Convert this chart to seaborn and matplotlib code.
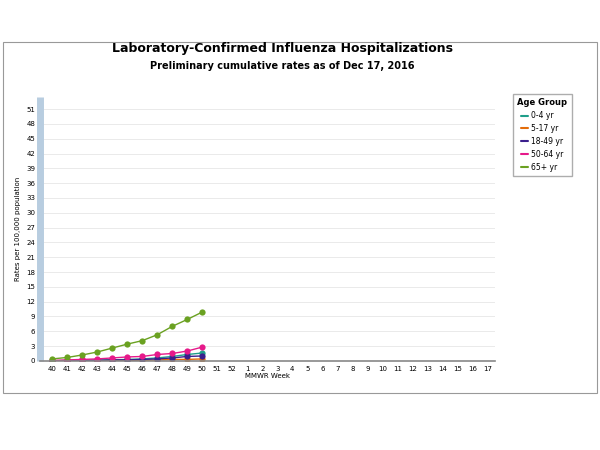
import matplotlib
matplotlib.use("Agg")
import matplotlib.pyplot as plt
import seaborn as sns
import pandas as pd
from matplotlib.patches import Rectangle
from matplotlib.lines import Line2D

weeks = [str(w) for w in list(range(40, 53)) + list(range(1, 18))]
obs_weeks = [str(w) for w in range(40, 51)]
groups = ["0-4 yr", "5-17 yr", "18-49 yr", "50-64 yr", "65+ yr"]
colors = ["#1f9e89", "#e36c0a", "#3b1f8c", "#e6198a", "#6aa121"]
r_0_4 = [0.0, 0.1, 0.1, 0.2, 0.2, 0.3, 0.4, 0.6, 0.9, 1.3, 1.6]
r_5_17 = [0.0, 0.0, 0.0, 0.0, 0.1, 0.1, 0.1, 0.2, 0.3, 0.3, 0.4]
r_18_49 = [0.0, 0.0, 0.1, 0.1, 0.2, 0.2, 0.3, 0.4, 0.6, 0.9, 1.0]
r_50_64 = [0.1, 0.2, 0.3, 0.4, 0.6, 0.8, 0.9, 1.3, 1.5, 2.0, 2.8]
r_65 = [0.4, 0.7, 1.2, 1.8, 2.6, 3.4, 4.1, 5.3, 7.0, 8.4, 9.9]
series = [r_0_4, r_5_17, r_18_49, r_50_64, r_65]

rows = []
for g, vals in zip(groups, series):
    for w, v in zip(obs_weeks, vals):
        rows.append({"week": weeks.index(w), "rate": v, "group": g})
df = pd.DataFrame(rows)

sns.set_style("white")
plt.rcParams["text.color"] = "black"
plt.rcParams["axes.labelcolor"] = "black"
plt.rcParams["xtick.color"] = "black"
plt.rcParams["ytick.color"] = "black"
fig = plt.figure(figsize=(6, 4.5), dpi=100)
fig.patches.append(Rectangle((0.005, 0.127), 0.99, 0.78, transform=fig.transFigure,
                             fill=False, edgecolor="#999999", lw=0.8))
ax = fig.add_axes([0.067, 0.198, 0.758, 0.587])
for g, c in zip(groups, colors):
    d = df[df.group == g]
    sns.lineplot(data=d, x="week", y="rate", color=c, marker="o", markersize=4.5,
                 markeredgewidth=0, lw=1, ax=ax, legend=False)
ax.set_xlim(-0.8, len(weeks) - 0.5)
ax.set_ylim(0, 53.5)
ax.set_yticks(range(0, 52, 3))
ax.set_xticks(range(len(weeks)))
ax.set_xticklabels(weeks)
ax.tick_params(labelsize=5, length=0)
ax.grid(axis="y", color="#e6e6e6", lw=0.6)
for s in ["top", "right"]:
    ax.spines[s].set_visible(False)
ax.spines["left"].set_color("#b8cde0")
ax.spines["left"].set_linewidth(5)
ax.spines["left"].set_capstyle("butt")
ax.spines["bottom"].set_color("#888888")
ax.spines["bottom"].set_linewidth(1.2)
ax.set_xlabel("MMWR Week", fontsize=5, labelpad=1)
ax.set_ylabel("Rates per 100,000 population", fontsize=5)
fig.text(0.47, 0.885, "Laboratory-Confirmed Influenza Hospitalizations",
         ha="center", fontsize=9, fontweight="bold", color="black")
fig.text(0.47, 0.846, "Preliminary cumulative rates as of Dec 17, 2016",
         ha="center", fontsize=7, fontweight="bold", color="black")
hs = [Line2D([], [], color=c, lw=1.5) for c in colors]
leg = fig.legend(hs, groups, loc="upper left", bbox_to_anchor=(0.848, 0.8),
                 title="Age Group", fontsize=5.5, title_fontsize=6,
                 fancybox=False, edgecolor="#999999", handlelength=0.8,
                 handletextpad=0.4, borderpad=0.6)
leg.get_title().set_fontweight("bold")
fig.savefig("out.png", dpi=100)
